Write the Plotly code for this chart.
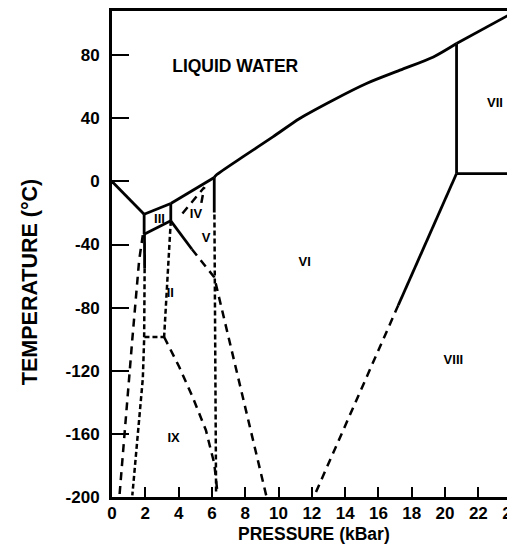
import plotly.graph_objects as go

# ---- data (pressure in kBar, temperature in °C) ----
ih_liquid_p = [0.0, 1.93]
ih_liquid_t = [0.0, -20.8]

iii_liquid_p = [1.93, 3.53]
iii_liquid_t = [-20.8, -14.0]

v_liquid_p = [3.53, 6.14]
v_liquid_t = [-14.0, 2.5]

vi_liquid_p = [6.14, 6.25, 7.85, 9.66, 11.27, 13.27, 15.28, 17.29, 19.3, 20.69]
vi_liquid_t = [2.5, 3.9, 15.5, 28.2, 39.9, 51.5, 62.1, 70.5, 78.9, 87.4]

vii_liquid_p = [20.69, 24.2]
vii_liquid_t = [87.4, 107.6]

ih_iii_p = [1.93, 1.93]
ih_iii_t = [-20.8, -33.5]

iii_ii_p = [1.93, 3.53]
iii_ii_t = [-33.5, -25.0]

iii_v_p = [3.53, 3.53]
iii_v_t = [-14.0, -25.0]

ih_ii_p = [1.95, 1.96]
ih_ii_t = [-33.5, -55.0]

ih_ii_ext_p = [1.96, 1.93, 1.85, 1.22]
ih_ii_ext_t = [-55.0, -100.0, -125.0, -199.0]

left_dash_p = [1.85, 1.63, 1.22, 1.02, 0.45]
left_dash_t = [-34.0, -50.0, -100.0, -125.0, -199.0]

ii_v_p = [3.53, 4.8]
ii_v_t = [-25.0, -43.0]

ii_v_ext_p = [4.8, 6.14, 9.26]
ii_v_ext_t = [-43.0, -60.7, -199.0]

v_vi_p = [6.14, 6.14]
v_vi_t = [2.5, -19.7]

v_vi_ext_p = [6.15, 6.25]
v_vi_ext_t = [-21.0, -197.0]

ii_inner_p = [3.53, 3.13]
ii_inner_t = [-25.0, -98.6]

ii_horiz_p = [1.95, 3.13]
ii_horiz_t = [-98.6, -98.6]

ii_ix_p = [3.13, 4.04, 4.84, 5.64, 6.14, 6.34]
ii_ix_t = [-98.6, -117.6, -136.6, -157.7, -178.8, -198.0]

iv_p = [4.23, 5.54, 5.34]
iv_t = [-20.3, -3.7, -15.1]

vi_vii_p = [20.69, 20.69]
vi_vii_t = [87.4, 5.0]

vii_viii_p = [20.69, 24.2]
vii_viii_t = [5.0, 5.0]

vi_viii_p = [20.69, 17.19]
vi_viii_t = [5.0, -78.5]

vi_viii_ext_p = [17.19, 12.2]
vi_viii_ext_t = [-78.5, -198.0]

region_labels = ["LIQUID WATER", "III", "IV", "V", "VI", "II", "IX", "VII", "VIII"]
region_p = [7.4, 2.85, 5.04, 5.65, 11.57, 3.5, 3.7, 23.0, 20.5]
region_t = [71.8, -24.2, -21.4, -36.2, -51.5, -71.5, -163.0, 49.4, -113.5]

x_ticks = [0, 2, 4, 6, 8, 10, 12, 14, 16, 18, 20, 22, 24]
y_ticks = [-200, -160, -120, -80, -40, 0, 40, 80]

x_title = "PRESSURE (kBar)"
y_title = "TEMPERATURE (°C)"

FONT = "Liberation Sans, Arial, Helvetica, sans-serif"

fig = go.Figure()

solid = [
    (ih_liquid_p, ih_liquid_t), (iii_liquid_p, iii_liquid_t), (v_liquid_p, v_liquid_t),
    (vii_liquid_p, vii_liquid_t), (ih_iii_p, ih_iii_t),
    (iii_ii_p, iii_ii_t), (iii_v_p, iii_v_t), (ih_ii_p, ih_ii_t), (ii_v_p, ii_v_t),
    (v_vi_p, v_vi_t), (vi_vii_p, vi_vii_t), (vii_viii_p, vii_viii_t), (vi_viii_p, vi_viii_t),
]
long_dash = [
    (left_dash_p, left_dash_t), (ii_v_ext_p, ii_v_ext_t), (ii_ix_p, ii_ix_t),
    (vi_viii_ext_p, vi_viii_ext_t), (iv_p, iv_t),
]
short_dash = [
    (ih_ii_ext_p, ih_ii_ext_t), (v_vi_ext_p, v_vi_ext_t), (ii_inner_p, ii_inner_t),
    (ii_horiz_p, ii_horiz_t),
]

fig.add_trace(go.Scatter(x=vi_liquid_p, y=vi_liquid_t, mode="lines",
                         line=dict(color="black", width=2.8, shape="spline", smoothing=0.8),
                         hoverinfo="skip"))
for p, t in solid:
    fig.add_trace(go.Scatter(x=p, y=t, mode="lines",
                             line=dict(color="black", width=2.8), hoverinfo="skip"))
for p, t in long_dash:
    fig.add_trace(go.Scatter(x=p, y=t, mode="lines",
                             line=dict(color="black", width=2.5, dash="8px,6px"), hoverinfo="skip"))
for p, t in short_dash:
    fig.add_trace(go.Scatter(x=p, y=t, mode="lines",
                             line=dict(color="black", width=2.5, dash="5px,3px"), hoverinfo="skip"))

fig.add_trace(go.Scatter(
    x=region_p[:1], y=region_t[:1], text=["<b>%s</b>" % region_labels[0]], mode="text",
    textfont=dict(family=FONT, size=17.5, color="black"), hoverinfo="skip"))
fig.add_trace(go.Scatter(
    x=region_p[1:], y=region_t[1:], text=["<b>%s</b>" % s for s in region_labels[1:]],
    mode="text", textfont=dict(family=FONT, size=13, color="black"), hoverinfo="skip"))

# The page body has an 8px default margin, so the figure is sized to fit inside it.
fig.update_layout(
    width=507, height=547,
    margin=dict(l=104, r=0, t=3, b=58),
    paper_bgcolor="white", plot_bgcolor="white",
    showlegend=False,
    font=dict(family=FONT, color="black"),
    xaxis=dict(
        range=[0, 24.2], tickvals=x_ticks, ticktext=["<b>%d</b>" % v for v in x_ticks],
        ticks="inside", ticklen=10, tickwidth=2, tickcolor="black",
        showline=True, linewidth=3, linecolor="black", mirror=True,
        showgrid=False, zeroline=False, ticklabeloverflow="allow",
        tickfont=dict(size=17, color="black"), ticklabelstandoff=-1,
        automargin=False,
    ),
    yaxis=dict(
        range=[-200, 108], tickvals=y_ticks, ticktext=["<b>%d</b>" % v for v in y_ticks],
        ticks="inside", ticklen=17, tickwidth=2, tickcolor="black",
        showline=True, linewidth=3, linecolor="black", mirror=False,
        showgrid=False, zeroline=False,
        tickfont=dict(size=17, color="black"), ticklabelstandoff=6,
        automargin=False,
    ),
    annotations=[
        dict(text="<b>%s</b>" % x_title, xref="paper", yref="paper", x=0.5, y=0,
             xanchor="center", yanchor="middle", yshift=-37, showarrow=False,
             font=dict(family=FONT, size=17.5, color="black")),
        dict(text="<b>%s</b>" % y_title, xref="paper", yref="paper", x=0, y=0.442,
             xanchor="center", yanchor="middle", xshift=-82, textangle=-90,
             showarrow=False, font=dict(family=FONT, size=21.5, color="black")),
    ],
)

fig.write_html("out.html")
